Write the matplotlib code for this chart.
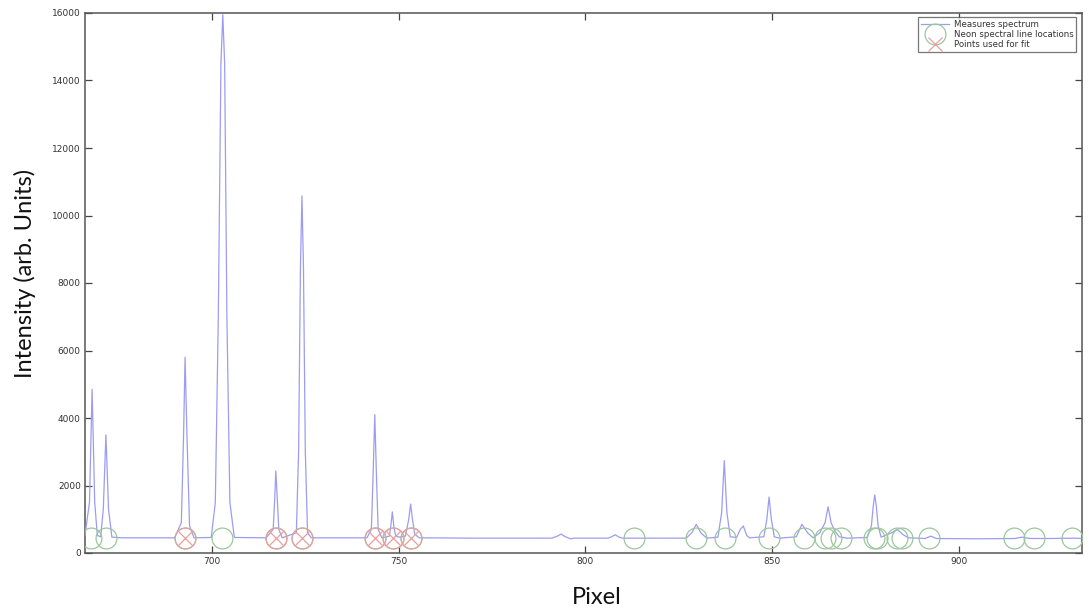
import matplotlib
matplotlib.use("Agg")
import matplotlib.pyplot as plt

# Measured neon spectrum (pixel, intensity)
pixel = [
    666.0, 667.2, 667.9, 668.6, 669.3,
    670.2, 670.9, 671.6, 672.3, 673.2,
    676.0, 690.0,
    691.8, 692.4, 692.8, 693.3, 694.0, 695.2,
    699.8, 700.9, 701.7, 702.4, 702.9, 703.4, 704.0, 704.8, 706.0,
    714.5,
    716.4, 716.8, 717.1, 717.5, 717.9, 718.8,
    722.6, 723.2, 723.7, 724.1, 724.5, 725.0, 725.6, 726.6,
    741.5,
    742.7, 743.2, 743.6, 744.0, 744.5, 745.5,
    747.5, 747.9, 748.3, 748.7, 749.2, 750.2,
    751.8, 752.7, 753.2, 753.7, 754.3, 755.5,
    770.0, 791.0,
    792.5, 793.5, 794.5, 796.0, 797.0,
    806.0, 807.0, 808.0, 809.0, 810.0,
    827.0, 828.5, 829.7, 830.9, 832.5,
    835.5, 836.5, 837.2, 837.9, 838.8,
    840.5, 841.5, 842.3, 843.2, 844.0,
    847.8, 848.6, 849.2, 849.8, 850.6, 852.0,
    856.5, 858.0, 859.5, 861.0,
    862.8, 864.2, 865.0, 865.8, 866.8, 868.0,
    870.0, 875.5,
    876.6, 877.1, 877.5, 877.9, 878.4, 879.2,
    882.0, 883.5, 885.0, 886.5,
    891.0, 892.5, 894.0,
    905.0, 915.0, 917.0, 919.0, 925.0, 931.0, 933.0,
]
intensity = [
    520, 1500, 4850, 1500, 520,
    480, 1300, 3500, 1300, 470,
    450, 450,
    900, 3500, 5800, 3500, 800, 450,
    460, 1500, 7000, 14500, 15950, 14500, 7000, 1500, 460,
    450,
    700, 1600, 2430, 1600, 700, 450,
    600, 3000, 8500, 10580, 8500, 3000, 600, 450,
    450,
    700, 2500, 4100, 2500, 700, 450,
    500, 800, 1220, 800, 500, 470,
    500, 1000, 1450, 1000, 560, 450,
    440, 440,
    500, 560, 490, 420, 440,
    440, 480, 540, 470, 440,
    440, 600, 850, 600, 440,
    470, 1200, 2735, 1200, 480,
    460, 700, 800, 520, 450,
    480, 1000, 1660, 1000, 480, 440,
    480, 850, 600, 450,
    600, 900, 1370, 900, 650, 480,
    440, 460,
    800, 1400, 1720, 1400, 800, 470,
    600, 700, 550, 450,
    430, 500, 430,
    420, 430, 470, 430, 430, 440, 430,
]

# Tabulated neon line positions and the subset used for the calibration fit
neon_pixels = [667.6, 671.7, 692.8, 702.7, 717.1, 724.1, 743.6, 748.4, 753.2,
               813.1, 829.7, 837.4, 849.2, 858.6, 864.2, 865.9, 868.4, 877.3,
               878.1, 883.4, 884.8, 892.0, 914.7, 920.1, 930.2]
neon_level = [440] * len(neon_pixels)
fit_pixels = [692.8, 717.1, 724.1, 743.6, 748.4, 753.2]
fit_level = [440] * len(fit_pixels)

x_ticks = [700, 750, 800, 850, 900]
y_ticks = [0, 2000, 4000, 6000, 8000, 10000, 12000, 14000, 16000]

fig = plt.figure(figsize=(10.89, 6.15), dpi=100)
ax = fig.add_axes([85 / 1089, 1 - 553 / 615, 997 / 1089, 540 / 615])

line_col = "#9c9cf2"
green = "#9cc79c"
red = "#e6a0a0"

spec, = ax.plot(pixel, intensity, color=line_col, lw=0.9, zorder=3)
neon, = ax.plot(neon_pixels, neon_level, ls="none", marker="o", ms=15,
                mfc="none", mec=green, mew=0.9, zorder=4)
ax.plot(fit_pixels, fit_level, ls="none", marker="o", ms=15,
        mfc="none", mec=red, mew=0.9, zorder=5)
fit, = ax.plot(fit_pixels, fit_level, ls="none", marker="x", ms=10,
               mec=red, mew=0.9, zorder=5)

ax.set_xlim(666, 933)
ax.set_ylim(0, 16000)
ax.set_xticks(x_ticks)
ax.set_yticks(y_ticks)
ax.tick_params(direction="in", length=5, width=0.9, color="#444444",
               top=True, right=True, labelsize=6.5, labelcolor="#333333",
               pad=3)
for s in ax.spines.values():
    s.set_color("#555555")
    s.set_linewidth(1.1)

leg = ax.legend([spec, neon, fit],
                ["Measures spectrum", "Neon spectral line locations",
                 "Points used for fit"],
                loc="upper right", bbox_to_anchor=(0.994, 0.992),
                fontsize=6.2, frameon=True, fancybox=False, edgecolor="#555555",
                handlelength=3.2, borderpad=0.3, labelspacing=0.15,
                handletextpad=0.6, borderaxespad=0.0)
leg.get_frame().set_linewidth(0.9)
for t in leg.get_texts():
    t.set_color("#333333")

fig.text(25 / 1089, 1 - 273 / 615, "Intensity (arb. Units)", rotation=90,
         ha="center", va="center", fontsize=17, family="Lato", color="#111111")
fig.text(597 / 1089, 1 - 598 / 615, "Pixel", ha="center", va="center",
         fontsize=17, family="Lato", color="#111111")

fig.savefig("out.png", dpi=100)
